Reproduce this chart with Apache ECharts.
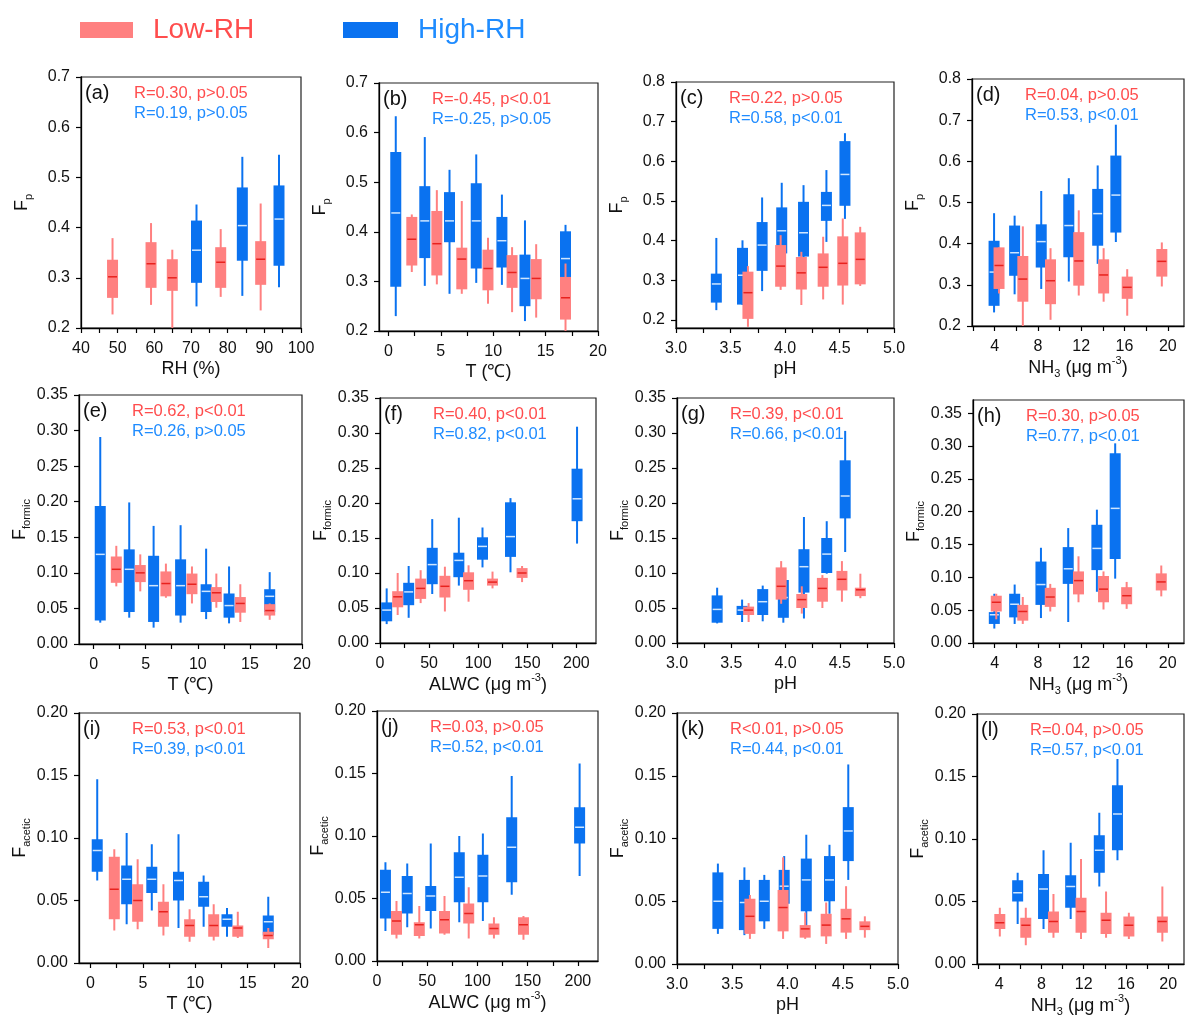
<!DOCTYPE html>
<html><head><meta charset="utf-8">
<script src="https://cdn.jsdelivr.net/npm/echarts@6/dist/echarts.min.js"></script>
<style>html,body{margin:0;padding:0;background:#fff}#c{width:1187px;height:1019px}</style>
</head><body><div id="c"></div>
<script>
// ---------- tick labels ----------
const xLabRH = [40,50,60,70,80,90,100];
const xTickRH = [40,45,50,55,60,65,70,75,80,85,90,95,100];
const xLabT = [0,5,10,15,20];
const xTickT = [0,2.5,5,7.5,10,12.5,15,17.5,20];
const xLabPH = [3.0,3.5,4.0,4.5,5.0];
const xTickPH = [3.0,3.25,3.5,3.75,4.0,4.25,4.5,4.75,5.0];
const xLabNH = [4,8,12,16,20];
const xTickNH = [2,4,6,8,10,12,14,16,18,20];
const xLabAL = [0,50,100,150,200];
const xTickAL = [0,25,50,75,100,125,150,175,200];
const yLabFp7 = [0.2,0.3,0.4,0.5,0.6,0.7];
const yLabFp8 = [0.2,0.3,0.4,0.5,0.6,0.7,0.8];
const yLabFo = [0,0.05,0.10,0.15,0.20,0.25,0.30,0.35];
const yLabAc = [0,0.05,0.10,0.15,0.20];

// ---------- correlation texts ----------
const rLow = ['R=0.30, p>0.05','R=-0.45, p<0.01','R=0.22, p>0.05','R=0.04, p>0.05',
  'R=0.62, p<0.01','R=0.40, p<0.01','R=0.39, p<0.01','R=0.30, p>0.05',
  'R=0.53, p<0.01','R=0.03, p>0.05','R<0.01, p>0.05','R=0.04, p>0.05'];
const rHigh = ['R=0.19, p>0.05','R=-0.25, p>0.05','R=0.58, p<0.01','R=0.53, p<0.01',
  'R=0.26, p>0.05','R=0.82, p<0.01','R=0.66, p<0.01','R=0.77, p<0.01',
  'R=0.39, p<0.01','R=0.52, p<0.01','R=0.44, p<0.01','R=0.57, p<0.01'];
const panelTags = ['(a)','(b)','(c)','(d)','(e)','(f)','(g)','(h)','(i)','(j)','(k)','(l)'];

// ---------- box data: [x, min, Q1, median, Q3, max] ----------
const lowA = [[48.6,0.227,0.260,0.302,0.336,0.379],[59.1,0.246,0.280,0.328,0.371,0.409],[64.9,0.190,0.274,0.300,0.337,0.356],[78.1,0.262,0.280,0.331,0.361,0.397],[89.0,0.235,0.286,0.337,0.373,0.448]];
const highA = [[71.5,0.243,0.290,0.355,0.414,0.446],[84.0,0.264,0.334,0.404,0.480,0.541],[94.0,0.281,0.324,0.417,0.484,0.545]];
const lowB = [[2.23,0.319,0.332,0.385,0.430,0.435],[4.62,0.294,0.312,0.376,0.442,0.484],[7.0,0.275,0.284,0.345,0.368,0.462],[9.5,0.255,0.282,0.326,0.364,0.388],[11.8,0.238,0.287,0.318,0.353,0.369],[14.1,0.227,0.264,0.306,0.345,0.375],[16.9,0.195,0.223,0.267,0.309,0.336]];
const highB = [[0.7,0.230,0.289,0.438,0.561,0.633],[3.47,0.291,0.347,0.422,0.492,0.591],[5.83,0.275,0.379,0.422,0.480,0.525],[8.38,0.297,0.326,0.422,0.498,0.556],[10.83,0.293,0.328,0.382,0.430,0.475],[13.03,0.220,0.250,0.306,0.354,0.423],[16.9,0.270,0.290,0.346,0.401,0.414]];
const lowC = [[3.66,0.183,0.203,0.269,0.322,0.336],[3.96,0.276,0.284,0.336,0.389,0.414],[4.15,0.238,0.277,0.319,0.359,0.372],[4.35,0.252,0.284,0.333,0.368,0.410],[4.53,0.239,0.287,0.343,0.411,0.456],[4.69,0.286,0.290,0.353,0.421,0.435]];
const highC = [[3.37,0.225,0.244,0.291,0.317,0.407],[3.61,0.238,0.239,0.313,0.382,0.401],[3.79,0.273,0.324,0.389,0.447,0.509],[3.97,0.365,0.368,0.425,0.484,0.546],[4.17,0.359,0.360,0.420,0.498,0.540],[4.38,0.397,0.450,0.489,0.523,0.578],[4.55,0.455,0.488,0.567,0.651,0.671]];
const lowD = [[4.4,0.279,0.290,0.347,0.391,0.391],[6.6,0.19,0.259,0.314,0.370,0.442],[9.16,0.215,0.253,0.310,0.362,0.389],[11.77,0.274,0.298,0.358,0.428,0.481],[14.07,0.259,0.279,0.324,0.362,0.389],[16.25,0.225,0.266,0.294,0.320,0.338],[19.45,0.296,0.320,0.357,0.387,0.403]];
const highD = [[3.94,0.233,0.249,0.331,0.407,0.474],[5.84,0.277,0.322,0.378,0.444,0.468],[8.3,0.290,0.342,0.405,0.447,0.528],[10.85,0.308,0.367,0.444,0.520,0.559],[13.52,0.351,0.395,0.473,0.533,0.590],[15.2,0.404,0.427,0.518,0.614,0.689]];
const lowE = [[2.18,0.081,0.086,0.105,0.123,0.138],[4.48,0.074,0.087,0.100,0.111,0.126],[6.94,0.065,0.067,0.085,0.102,0.113],[9.44,0.057,0.070,0.084,0.099,0.109],[11.78,0.051,0.059,0.072,0.080,0.099],[14.08,0.031,0.044,0.057,0.066,0.084],[16.9,0.034,0.040,0.047,0.056,0.057]];
const highE = [[0.64,0.030,0.033,0.126,0.194,0.291],[3.42,0.037,0.045,0.105,0.133,0.199],[5.76,0.023,0.031,0.082,0.124,0.166],[8.35,0.030,0.040,0.082,0.119,0.167],[10.8,0.035,0.045,0.074,0.084,0.134],[13.0,0.029,0.037,0.054,0.071,0.109],[16.9,0.040,0.045,0.067,0.077,0.101]];
const lowF = [[18.0,0.040,0.051,0.066,0.074,0.100],[41.4,0.057,0.063,0.078,0.092,0.104],[66.1,0.045,0.065,0.081,0.096,0.109],[90.2,0.059,0.076,0.089,0.101,0.111],[114.6,0.078,0.082,0.087,0.092,0.102],[144.7,0.087,0.093,0.100,0.107,0.110]];
const highF = [[6.8,0.027,0.031,0.047,0.058,0.078],[29.2,0.036,0.054,0.073,0.086,0.110],[53.2,0.070,0.084,0.112,0.136,0.177],[80.3,0.082,0.094,0.118,0.129,0.179],[104.4,0.108,0.119,0.138,0.151,0.165],[132.9,0.101,0.123,0.152,0.201,0.207],[200.7,0.142,0.174,0.206,0.249,0.309]];
const lowG = [[3.66,0.030,0.040,0.047,0.052,0.057],[3.96,0.056,0.062,0.081,0.108,0.117],[4.15,0.042,0.050,0.062,0.070,0.081],[4.34,0.050,0.059,0.078,0.093,0.097],[4.52,0.059,0.075,0.091,0.103,0.117],[4.69,0.064,0.067,0.076,0.079,0.099]];
const highG = [[3.37,0.028,0.029,0.048,0.068,0.079],[3.60,0.030,0.040,0.047,0.053,0.062],[3.79,0.031,0.040,0.059,0.077,0.082],[3.98,0.029,0.036,0.065,0.090,0.090],[4.17,0.035,0.072,0.109,0.134,0.180],[4.38,0.099,0.100,0.127,0.150,0.174],[4.55,0.130,0.178,0.210,0.261,0.303]];
const lowH = [[4.15,0.036,0.048,0.062,0.072,0.075],[6.6,0.029,0.034,0.048,0.058,0.070],[9.14,0.048,0.055,0.070,0.084,0.090],[11.75,0.062,0.074,0.095,0.109,0.132],[14.06,0.051,0.062,0.082,0.102,0.109],[16.2,0.052,0.059,0.072,0.085,0.093],[19.4,0.071,0.080,0.093,0.106,0.118]];
const highH = [[3.97,0.022,0.029,0.043,0.047,0.075],[5.85,0.029,0.039,0.059,0.075,0.089],[8.28,0.038,0.058,0.089,0.124,0.145],[10.8,0.032,0.090,0.113,0.146,0.175],[13.45,0.078,0.111,0.144,0.180,0.203],[15.14,0.098,0.128,0.205,0.289,0.304]];
const lowI = [[2.27,0.026,0.035,0.059,0.085,0.091],[4.5,0.027,0.033,0.050,0.063,0.083],[6.96,0.022,0.029,0.041,0.049,0.063],[9.46,0.017,0.021,0.030,0.035,0.043],[11.76,0.018,0.021,0.030,0.039,0.047],[14.06,0.020,0.021,0.028,0.030,0.041],[16.97,0.012,0.019,0.022,0.025,0.028]];
const highI = [[0.64,0.066,0.073,0.090,0.099,0.147],[3.45,0.031,0.047,0.067,0.078,0.104],[5.85,0.042,0.056,0.067,0.077,0.095],[8.4,0.028,0.050,0.066,0.073,0.103],[10.8,0.029,0.045,0.053,0.065,0.070],[13.03,0.021,0.029,0.035,0.039,0.044],[16.97,0.020,0.022,0.033,0.038,0.053]];
const lowJ = [[19.4,0.018,0.021,0.032,0.040,0.048],[42.1,0.018,0.020,0.029,0.031,0.044],[67.2,0.021,0.022,0.033,0.040,0.052],[91.3,0.018,0.030,0.038,0.046,0.059],[116.4,0.018,0.021,0.026,0.030,0.035],[145.8,0.017,0.021,0.029,0.035,0.036]];
const highJ = [[8.4,0.024,0.034,0.055,0.073,0.079],[30.1,0.027,0.038,0.054,0.068,0.078],[53.5,0.026,0.040,0.052,0.060,0.094],[81.9,0.031,0.047,0.067,0.087,0.100],[105.4,0.032,0.047,0.068,0.085,0.102],[134.1,0.053,0.063,0.091,0.115,0.148],[201.7,0.068,0.094,0.107,0.123,0.158]];
const lowK = [[3.66,0.020,0.024,0.038,0.052,0.055],[3.96,0.020,0.026,0.045,0.059,0.085],[4.16,0.020,0.021,0.028,0.031,0.041],[4.35,0.016,0.022,0.031,0.040,0.049],[4.53,0.020,0.025,0.036,0.044,0.062],[4.70,0.021,0.027,0.030,0.034,0.038]];
const highK = [[3.37,0.024,0.028,0.050,0.073,0.080],[3.61,0.023,0.027,0.049,0.067,0.077],[3.79,0.028,0.034,0.050,0.067,0.071],[3.97,0.040,0.048,0.062,0.075,0.086],[4.17,0.030,0.042,0.067,0.084,0.103],[4.38,0.040,0.050,0.067,0.086,0.095],[4.55,0.067,0.082,0.106,0.125,0.159]];
const lowL = [[4.06,0.022,0.028,0.033,0.040,0.045],[6.52,0.015,0.021,0.031,0.037,0.045],[9.14,0.021,0.025,0.034,0.042,0.056],[11.75,0.020,0.025,0.042,0.053,0.084],[14.12,0.021,0.024,0.035,0.041,0.058],[16.28,0.020,0.022,0.031,0.038,0.041],[19.45,0.018,0.025,0.034,0.038,0.062]];
const highL = [[5.75,0.032,0.050,0.057,0.067,0.073],[8.2,0.028,0.036,0.060,0.072,0.091],[10.77,0.036,0.045,0.062,0.071,0.097],[13.48,0.062,0.073,0.091,0.103,0.121],[15.2,0.083,0.091,0.120,0.143,0.164]];

// ---------- styling ----------
const FONT = '"Liberation Sans", Arial, Helvetica, sans-serif';
const RED_BOX = '#ff8080', RED_MED = '#e8221e', RED_TXT = '#ff4d4d';
const BLUE_BOX = '#0a72f0', BLUE_MED = '#cfe6ff', BLUE_TXT = '#1f8cff';

const nameRH = '{m|RH (%)}';
const nameT = '{m|T (℃)}';
const namePH = '{m|pH}';
const nameNH = '{m|NH}{s|3}{m| (μg m}{u|-3}{m|)}';
const nameAL = '{m|ALWC (μg m}{u|-3}{m|)}';
const nameFp = '{m|F}{s|p}';
const nameFo = '{m|F}{s|formic}';
const nameAc = '{m|F}{s|acetic}';

// layout (pixel boxes) and axis config per panel
const panels = [
  {low:lowA, high:highA, box:[81,77,301,328], xr:[40,100], xl:xLabRH, xt:xTickRH, xd:0, yr:[0.2,0.7], yl:yLabFp7, yd:1, xn:nameRH, yn:nameFp},
  {low:lowB, high:highB, box:[379,83,598,331], xr:[-0.9,20], xl:xLabT, xt:xTickT, xd:0, yr:[0.2,0.7], yl:yLabFp7, yd:1, xn:nameT, yn:nameFp},
  {low:lowC, high:highC, box:[676,82,894,328], xr:[3,5], xl:xLabPH, xt:xTickPH, xd:1, yr:[0.18,0.8], yl:yLabFp8, yd:1, xn:namePH, yn:nameFp},
  {low:lowD, high:highD, box:[972,79,1184,326], xr:[1.9,21.5], xl:xLabNH, xt:xTickNH, xd:0, yr:[0.2,0.8], yl:yLabFp8, yd:1, xn:nameNH, yn:nameFp},
  {low:lowE, high:highE, box:[79,395,302,644], xr:[-1.4,20], xl:xLabT, xt:xTickT, xd:0, yr:[0,0.35], yl:yLabFo, yd:2, xn:nameT, yn:nameFo},
  {low:lowF, high:highF, box:[380,398,596,643], xr:[0,220], xl:xLabAL, xt:xTickAL, xd:0, yr:[0,0.35], yl:yLabFo, yd:2, xn:nameAL, yn:nameFo},
  {low:lowG, high:highG, box:[677,398,894,643], xr:[3,5], xl:xLabPH, xt:xTickPH, xd:1, yr:[0,0.35], yl:yLabFo, yd:2, xn:namePH, yn:nameFo},
  {low:lowH, high:highH, box:[973,400,1184,643], xr:[2,21.5], xl:xLabNH, xt:xTickNH, xd:0, yr:[0,0.37], yl:yLabFo, yd:2, xn:nameNH, yn:nameFo},
  {low:lowI, high:highI, box:[79,713,300,963], xr:[-1.1,20], xl:xLabT, xt:xTickT, xd:0, yr:[0,0.2], yl:yLabAc, yd:2, xn:nameT, yn:nameAc},
  {low:lowJ, high:highJ, box:[377,711,598,961], xr:[0,220], xl:xLabAL, xt:xTickAL, xd:0, yr:[0,0.2], yl:yLabAc, yd:2, xn:nameAL, yn:nameAc},
  {low:lowK, high:highK, box:[677,713,898,964], xr:[3,5], xl:xLabPH, xt:xTickPH, xd:1, yr:[0,0.2], yl:yLabAc, yd:2, xn:namePH, yn:nameAc},
  {low:lowL, high:highL, box:[977,714,1184,964], xr:[1.9,21.5], xl:xLabNH, xt:xTickNH, xd:0, yr:[0,0.2], yl:yLabAc, yd:2, xn:nameNH, yn:nameAc}
];

const rich = {
  m: {fontSize: 18, lineHeight: 24, color: '#111', fontFamily: FONT},
  s: {fontSize: 11, lineHeight: 11, verticalAlign: 'bottom', color: '#111', fontFamily: FONT},
  u: {fontSize: 11, lineHeight: 11, verticalAlign: 'top', color: '#111', fontFamily: FONT}
};

function makeRender(boxColor, medColor) {
  return function (params, api) {
    const x = api.value(0);
    const lo = api.coord([x, api.value(1)]);
    const q1 = api.coord([x, api.value(2)]);
    const md = api.coord([x, api.value(3)]);
    const q3 = api.coord([x, api.value(4)]);
    const hi = api.coord([x, api.value(5)]);
    const w = 11;
    return {
      type: 'group',
      children: [
        {type: 'line', shape: {x1: lo[0], y1: lo[1], x2: hi[0], y2: hi[1]}, style: {stroke: boxColor, lineWidth: 2}},
        {type: 'rect', shape: {x: q3[0] - w / 2, y: q3[1], width: w, height: q1[1] - q3[1]}, style: {fill: boxColor}},
        {type: 'line', shape: {x1: md[0] - w / 2 + 1, y1: md[1], x2: md[0] + w / 2 - 1, y2: md[1]}, style: {stroke: medColor, lineWidth: 1.5}}
      ]
    };
  };
}

const grid = [], xAxis = [], yAxis = [], series = [], graphic = [];
panels.forEach((p, i) => {
  const [L, T, R, B] = p.box;
  grid.push({left: L, top: T, width: R - L, height: B - T, show: true, borderColor: '#222', borderWidth: 1.2, containLabel: false});
  xAxis.push({
    type: 'value', gridIndex: i, min: p.xr[0], max: p.xr[1], position: 'bottom',
    splitLine: {show: false},
    axisLine: {show: true, onZero: false, lineStyle: {color: '#000', width: 1.3}},
    axisTick: {show: true, inside: false, length: 5, customValues: p.xt, lineStyle: {color: '#000', width: 1.2}},
    axisLabel: {show: true, customValues: p.xl, margin: 13, fontSize: 16, color: '#111', fontFamily: FONT,
      formatter: (v) => v.toFixed(p.xd)},
    name: p.xn, nameLocation: 'middle', nameGap: 29,
    nameTextStyle: {rich: rich}
  });
  yAxis.push({
    type: 'value', gridIndex: i, min: p.yr[0], max: p.yr[1],
    splitLine: {show: false},
    axisLine: {show: true, onZero: false, lineStyle: {color: '#000', width: 1.3}},
    axisTick: {show: true, inside: false, length: 5, customValues: p.yl, lineStyle: {color: '#000', width: 1.2}},
    axisLabel: {show: true, customValues: p.yl, margin: 11, fontSize: 16, color: '#111', fontFamily: FONT,
      formatter: (v) => v.toFixed(p.yd)},
    name: p.yn, nameLocation: 'middle', nameGap: 47, nameRotate: 90,
    nameTextStyle: {rich: rich}
  });
  series.push({
    type: 'custom', name: 'High-RH', xAxisIndex: i, yAxisIndex: i, clip: true,
    itemStyle: {color: BLUE_BOX},
    encode: {x: 0, y: [1, 2, 3, 4, 5]},
    renderItem: makeRender(BLUE_BOX, BLUE_MED), data: p.high, z: 2
  });
  series.push({
    type: 'custom', name: 'Low-RH', xAxisIndex: i, yAxisIndex: i, clip: true,
    itemStyle: {color: RED_BOX},
    encode: {x: 0, y: [1, 2, 3, 4, 5]},
    renderItem: makeRender(RED_BOX, RED_MED), data: p.low, z: 3
  });
  graphic.push({type: 'text', left: L + 4, top: T + 6, z: 10,
    style: {text: panelTags[i], font: '20px ' + FONT, fill: '#111'}});
  graphic.push({type: 'text', left: L + 53, top: T + 8, z: 10,
    style: {text: rLow[i], font: '16.5px ' + FONT, fill: RED_TXT}});
  graphic.push({type: 'text', left: L + 53, top: T + 28, z: 10,
    style: {text: rHigh[i], font: '16.5px ' + FONT, fill: BLUE_TXT}});
});

const chart = echarts.init(document.getElementById('c'), null, {renderer: 'canvas'});
chart.setOption({
  animation: false,
  backgroundColor: '#fff',
  legend: [
    {left: 80, top: 16, padding: 0, selectedMode: false, itemWidth: 53, itemHeight: 16,
      data: [{name: 'Low-RH', icon: 'rect', itemStyle: {color: RED_BOX}}],
      textStyle: {fontSize: 28, color: RED_TXT, fontFamily: FONT, padding: [0, 0, 0, 15]}},
    {left: 343, top: 16, padding: 0, selectedMode: false, itemWidth: 55, itemHeight: 16,
      data: [{name: 'High-RH', icon: 'rect', itemStyle: {color: BLUE_BOX}}],
      textStyle: {fontSize: 28, color: BLUE_TXT, fontFamily: FONT, padding: [0, 0, 0, 15]}}
  ],
  grid: grid, xAxis: xAxis, yAxis: yAxis, series: series, graphic: graphic
});
</script></body></html>
